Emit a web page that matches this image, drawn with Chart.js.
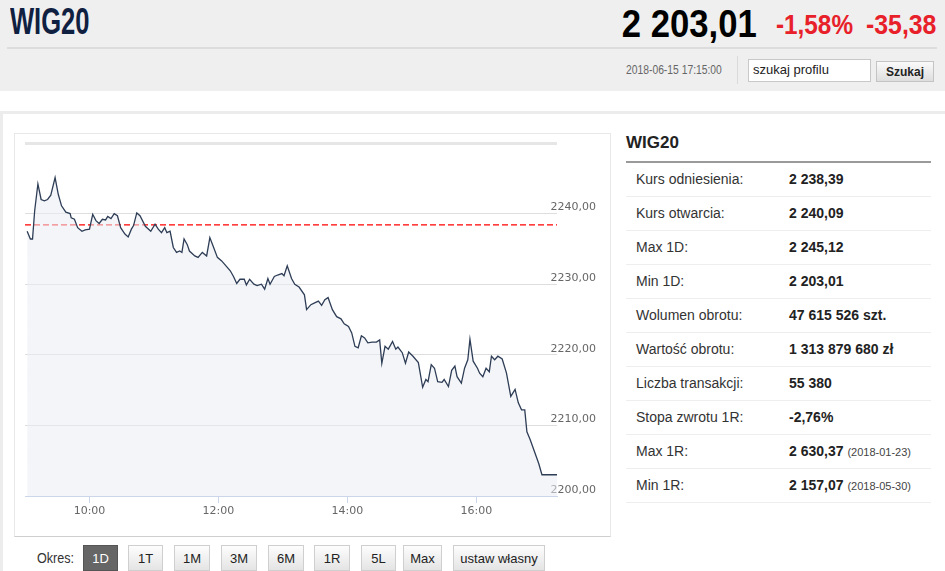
<!DOCTYPE html>
<html lang="pl">
<head>
<meta charset="utf-8">
<title>WIG20</title>
<script src="https://cdn.jsdelivr.net/npm/chart.js@4.4.0/dist/chart.umd.min.js"></script>
<style>
  body { margin: 0; width: 945px; height: 571px; overflow: hidden; background: #fff; font-family: "Liberation Sans", Arial, sans-serif; position: relative; }
  .abs { position: absolute; white-space: nowrap; }
  #top { left: 0; top: 0; width: 945px; height: 91px; background: #efefef; }
  #name { left: 10px; top: 1px; font: bold 37px "Liberation Sans", Arial, sans-serif; color: #0f2041; transform: scaleX(0.69); transform-origin: left top; }
  #price { right: 188px; top: 2px; font: bold 39px "Liberation Sans", Arial, sans-serif; color: #000; transform: scaleX(0.89); transform-origin: right top; }
  #pct { left: 776px; top: 10px; font: bold 27px "Liberation Sans", Arial, sans-serif; color: #e8202a; transform: scaleX(0.9); transform-origin: left top; }
  #chg { left: 866px; top: 10px; font: bold 27px "Liberation Sans", Arial, sans-serif; color: #e8202a; transform: scaleX(0.92); transform-origin: left top; }
  #hline { left: 7px; top: 47px; width: 930px; height: 2px; background: #dcdcdc; }
  #date { left: 626px; top: 63px; font: 12px "Liberation Sans", Arial, sans-serif; color: #666; transform: scaleX(0.86); transform-origin: left top; }
  #vsep { left: 737px; top: 56px; width: 1px; height: 28px; background: #dadada; }
  #search { left: 748px; top: 59px; background: #fff; border: 1px solid #c8c8c8; font: 13px "Liberation Sans", Arial, sans-serif; color: #222; line-height: 20px; padding-left: 4px; box-sizing: border-box; width: 123px; height: 23px; }
  #btn { left: 876px; top: 61px; width: 58px; height: 21px; border: 1px solid #c4c4c4; box-sizing: border-box; background: linear-gradient(#fafafa, #dedede); font: bold 12px "Liberation Sans", Arial, sans-serif; color: #222; text-align: center; line-height: 20px; }
  #frame { left: 0; top: 111px; width: 960px; height: 480px; border-left: 3px solid #ececec; border-top: 3px solid #ececec; box-sizing: border-box; }
  #chartbox { left: 14px; top: 133px; width: 597px; height: 404px; border: 1px solid #e8e8e8; border-bottom-color: #cfcfcf; box-sizing: border-box; background: #fff; }
  #chartwrap { left: 15px; top: 134px; width: 595px; height: 402px; }
  #okres { left: 37px; top: 550px; font: 14px "Liberation Sans", Arial, sans-serif; color: #333; transform: scaleX(0.9); transform-origin: left top; }
  .b { top: 545px; height: 26px; box-sizing: border-box; border: 1px solid #cfcfcf; background: linear-gradient(#fdfdfd, #e4e4e4); font: 13px "Liberation Sans", Arial, sans-serif; color: #222; text-align: center; line-height: 25px; }
  .b.on { background: #666; border-color: #555; color: #fff; }
  #ptitle { left: 626px; top: 133px; font: bold 17px "Liberation Sans", Arial, sans-serif; color: #222; }
  #pline { left: 626px; top: 161px; width: 305px; height: 2px; background: #9a9a9a; }
  #tbl { left: 626px; top: 163px; width: 305px; }
  .row { height: 33px; border-bottom: 1px solid #eeeeee; position: relative; font-size: 14px; color: #222; }
  .row span { position: absolute; top: 8px; }
  .row .l { left: 10px; color: #333; }
  .row .v { left: 163px; font-weight: bold; }
  .row .d { font-weight: normal; font-size: 11px; color: #444; }
</style>
</head>
<body>
<div id="top" class="abs"></div>
<div id="name" class="abs">WIG20</div>
<div id="price" class="abs">2 203,01</div>
<div id="pct" class="abs">-1,58%</div>
<div id="chg" class="abs">-35,38</div>
<div id="hline" class="abs"></div>
<div id="date" class="abs">2018-06-15 17:15:00</div>
<div id="vsep" class="abs"></div>
<div id="search" class="abs">szukaj profilu</div>
<div id="btn" class="abs">Szukaj</div>

<div id="frame" class="abs"></div>
<div id="chartbox" class="abs"></div>
<div id="chartwrap" class="abs"><canvas id="myChart" width="595" height="402"></canvas></div>

<div id="okres" class="abs">Okres:</div>
<div class="abs b on" style="left:83px;width:35px">1D</div>
<div class="abs b" style="left:128px;width:35px">1T</div>
<div class="abs b" style="left:174px;width:36px">1M</div>
<div class="abs b" style="left:221px;width:36px">3M</div>
<div class="abs b" style="left:268px;width:36px">6M</div>
<div class="abs b" style="left:314px;width:36px">1R</div>
<div class="abs b" style="left:361px;width:35px">5L</div>
<div class="abs b" style="left:403px;width:39px">Max</div>
<div class="abs b" style="left:453px;width:92px">ustaw własny</div>

<div id="ptitle" class="abs">WIG20</div>
<div id="pline" class="abs"></div>
<div id="tbl" class="abs">
  <div class="row"><span class="l">Kurs odniesienia:</span><span class="v">2 238,39</span></div>
  <div class="row"><span class="l">Kurs otwarcia:</span><span class="v">2 240,09</span></div>
  <div class="row"><span class="l">Max 1D:</span><span class="v">2 245,12</span></div>
  <div class="row"><span class="l">Min 1D:</span><span class="v">2 203,01</span></div>
  <div class="row"><span class="l">Wolumen obrotu:</span><span class="v">47 615 526 szt.</span></div>
  <div class="row"><span class="l">Wartość obrotu:</span><span class="v">1 313 879 680 zł</span></div>
  <div class="row"><span class="l">Liczba transakcji:</span><span class="v">55 380</span></div>
  <div class="row"><span class="l">Stopa zwrotu 1R:</span><span class="v">-2,76%</span></div>
  <div class="row"><span class="l">Max 1R:</span><span class="v">2 630,37 <span class="d" style="position:static">(2018-01-23)</span></span></div>
  <div class="row"><span class="l">Min 1R:</span><span class="v">2 157,07 <span class="d" style="position:static">(2018-05-30)</span></span></div>
</div>

<script>
// intraday quotes
var times = ["9:02","9:05","9:07","9:09","9:12","9:15","9:18","9:21","9:24","9:28",
  "9:31","9:34","9:38","9:42","9:43","9:46","9:49","9:53","9:56","10:00",
  "10:03","10:06","10:09","10:12","10:15","10:17","10:20","10:23","10:26","10:29",
  "10:33","10:36","10:39","10:41","10:44","10:47","10:52","10:57","11:01","11:04",
  "11:07","11:10","11:12","11:15","11:18","11:21","11:24","11:26","11:28","11:31",
  "11:33","11:38","11:41","11:45","11:49","11:52","11:55","11:59","12:03","12:07",
  "12:11","12:14","12:17","12:20","12:24","12:26","12:29","12:33","12:36","12:40",
  "12:43","12:46","12:48","12:52","12:55","12:59","13:01","13:04","13:08","13:11",
  "13:15","13:20","13:22","13:26","13:30","13:33","13:36","13:39","13:42","13:46",
  "13:50","13:54","13:57","14:01","14:04","14:07","14:10","14:13","14:16","14:19",
  "14:23","14:27","14:30","14:32","14:35","14:38","14:42","14:45","14:47","14:51",
  "14:54","14:57","15:01","15:06","15:10","15:13","15:15","15:18","15:21","15:24",
  "15:28","15:30","15:34","15:37","15:40","15:42","15:46","15:49","15:52","15:54",
  "15:57","16:01","16:03","16:06","16:09","16:12","16:14","16:17","16:20","16:24",
  "16:28","16:32","16:36","16:39","16:42","16:45","16:47","16:50","16:54","16:58",
  "17:01","17:05","17:15"];
var prices = [2237.5,2236.4,2236.4,2240.4,2244.2,2242.0,2241.8,2242.0,2242.6,2245.1,
  2242.7,2241.1,2240.2,2240.0,2239.4,2239.2,2238.0,2237.5,2237.7,2237.8,
  2239.9,2239.0,2238.6,2239.2,2239.1,2239.6,2239.3,2240.0,2239.7,2238.0,
  2237.1,2236.7,2237.8,2238.3,2240.1,2239.7,2238.2,2237.5,2238.5,2237.8,
  2237.3,2238.0,2237.3,2237.5,2235.2,2234.5,2234.7,2234.5,2236.4,2235.6,
  2234.7,2234.0,2233.8,2234.5,2234.0,2236.6,2235.4,2233.8,2233.3,2232.6,
  2231.9,2231.1,2230.1,2230.7,2230.7,2229.9,2230.7,2230.0,2229.8,2230.0,
  2229.3,2230.8,2230.0,2231.1,2231.3,2231.5,2231.2,2232.6,2230.8,2230.0,
  2229.6,2228.5,2226.4,2227.1,2227.4,2227.6,2227.0,2227.8,2228.1,2226.4,
  2225.4,2225.1,2224.4,2224.0,2223.1,2221.2,2221.0,2222.7,2222.4,2221.7,
  2221.8,2221.8,2222.1,2218.8,2221.2,2220.8,2221.9,2220.8,2221.1,2220.3,
  2218.8,2220.4,2219.8,2218.9,2215.4,2216.5,2216.2,2218.6,2218.1,2216.2,
  2216.1,2216.5,2215.5,2217.8,2218.4,2216.9,2216.0,2218.1,2219.3,2222.2,
  2219.1,2218.1,2217.4,2216.9,2218.1,2217.6,2219.8,2219.3,2219.8,2219.4,
  2217.4,2214.1,2215.1,2213.2,2212.2,2212.2,2209.1,2208.0,2206.3,2204.6,
  2203.01,2203.01,2203.01];
var refPrice = 2238.39;
var sessionStart = "9:00";
var sessionEnd = "17:15";
var hourTicks = ["10:00","12:00","14:00","16:00"];
var yTicks = [2200, 2210, 2220, 2230, 2240, 2250];

function toMin(s) {
  var p = s.split(":");
  return parseInt(p[0], 10) * 60 + parseInt(p[1], 10);
}
function toClock(m) {
  var h = Math.floor(m / 60), mm = m % 60;
  return (h < 10 ? "0" + h : h) + ":" + (mm < 10 ? "0" + mm : mm);
}

window.addEventListener("load", function () {
  var pts = [];
  for (var i = 0; i < times.length; i++) {
    pts.push({ x: toMin(times[i]), y: prices[i] });
  }
  var xMin = toMin(sessionStart), xMax = toMin(sessionEnd);
  var axisFont = { family: "'DejaVu Sans', Verdana, sans-serif", size: 11 };

  var ctx = document.getElementById("myChart").getContext("2d");
  var chart = new Chart(ctx, {
    type: "line",
    data: {
      datasets: [
        {
          data: pts,
          borderColor: "#2e3d56",
          borderWidth: 1.3,
          pointRadius: 0,
          tension: 0,
          fill: "start",
          backgroundColor: "rgba(234,237,242,0.55)",
          order: 0
        },
        {
          data: [{ x: xMin, y: refPrice }, { x: xMax, y: refPrice }],
          borderColor: "#ff0000",
          borderWidth: 1.3,
          borderDash: [6, 3],
          pointRadius: 0,
          fill: false,
          order: 1
        }
      ]
    },
    options: {
      responsive: false,
      animation: false,
      layout: { padding: { left: 10, top: 9, right: 0, bottom: 0 } },
      plugins: { legend: { display: false }, tooltip: { enabled: false } },
      scales: {
        x: {
          type: "linear",
          min: xMin,
          max: xMax,
          afterBuildTicks: function (scale) {
            scale.ticks = hourTicks.map(function (t) { return { value: toMin(t) }; });
          },
          afterFit: function (scale) { scale.height = 40; },
          grid: { drawOnChartArea: false, drawTicks: true, tickLength: 7, color: "#ccd6eb" },
          border: { color: "#ccd6eb", width: 1 },
          ticks: {
            padding: 2,
            color: "#666",
            font: axisFont,
            maxRotation: 0,
            autoSkip: false,
            callback: function (v) { return toClock(v); }
          }
        },
        y: {
          position: "right",
          min: yTicks[0],
          max: yTicks[yTicks.length - 1],
          afterBuildTicks: function (scale) {
            scale.ticks = yTicks.map(function (v) { return { value: v }; });
          },
          afterFit: function (scale) {
            scale.width = 53;
            scale.paddingTop = 0;
            scale.paddingBottom = 0;
          },
          grid: {
            drawTicks: false,
            color: function (c) { return c.tick && c.tick.value === 2250 ? "#e6e6e6" : "#dedede"; },
            lineWidth: function (c) { return c.tick && c.tick.value === 2250 ? 3 : 1; }
          },
          border: { display: false },
          ticks: {
            mirror: true,
            crossAlign: "near",
            padding: 39,
            labelOffset: -6,
            color: "#666",
            font: axisFont,
            callback: function (v) { return v === 2250 ? "" : v.toFixed(2).replace(".", ","); }
          }
        }
      }
    }
  });
});
</script>
</body>
</html>
